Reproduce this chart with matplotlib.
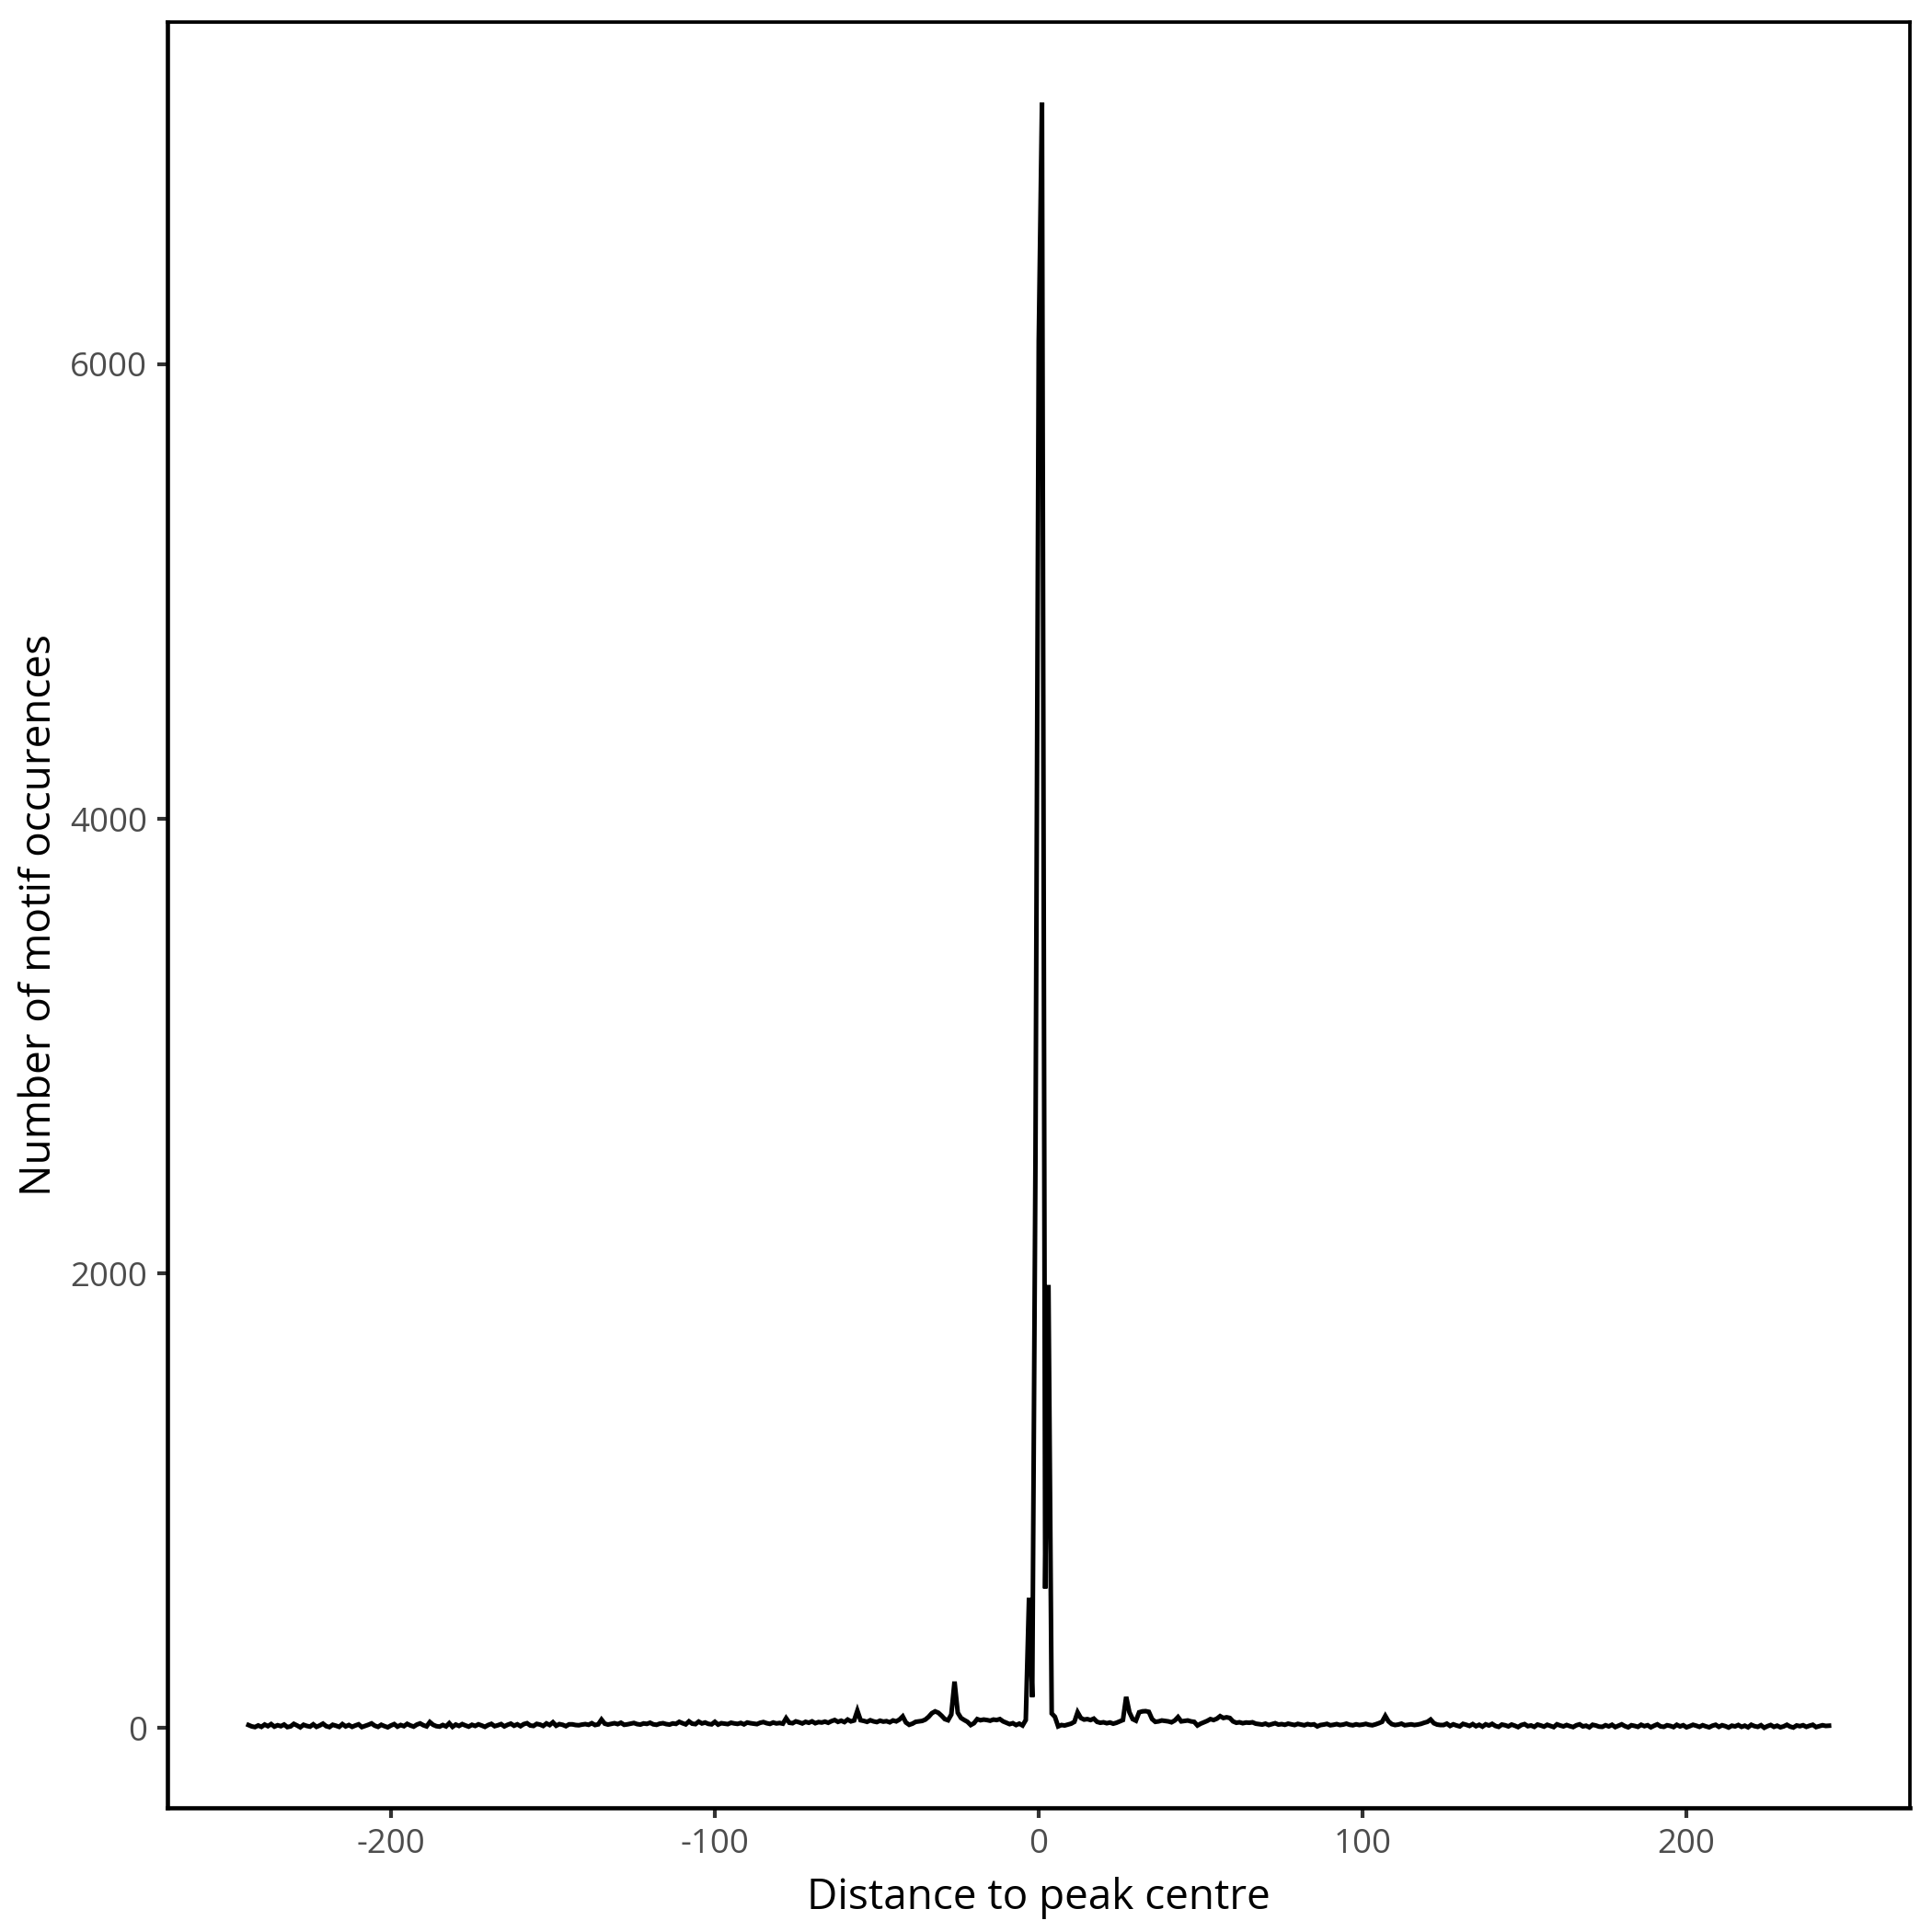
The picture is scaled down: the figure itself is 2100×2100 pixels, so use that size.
import numpy as np
import matplotlib
matplotlib.use("Agg")
import matplotlib.pyplot as plt

plt.rcParams['font.family'] = ['Open Sans', 'DejaVu Sans']

# distance to peak centre, one value per bp
distance = np.arange(-244, 245)

# counts, -244 .. -5
left_counts = [
    14, 8, 5, 12, 6, 16, 9, 18, 7, 13,
    9, 16, 5, 8, 19, 12, 4, 15, 10, 7,
    17, 6, 12, 20, 9, 5, 15, 11, 6, 18,
    8, 14, 6, 12, 17, 5, 10, 15, 21, 11,
    6, 15, 9, 4, 12, 18, 7, 14, 9, 19,
    12, 7, 16, 21, 13, 8, 27, 15, 9, 7,
    14, 8, 22, 6, 16, 10, 18, 12, 7, 15,
    10, 17, 12, 6, 14, 19, 9, 13, 18, 8,
    15, 20, 11, 17, 9, 18, 22, 12, 10, 19,
    16, 10, 21, 14, 26, 11, 18, 15, 9, 17,
    17, 14, 13, 16, 18, 15, 22, 14, 17, 38,
    20, 16, 19, 22, 18, 24, 15, 17, 20, 23,
    18, 16, 21, 19, 24, 17, 15, 20, 22, 18,
    16, 21, 19, 28, 22, 17, 30, 20, 18, 29,
    21, 25, 19, 17, 28, 16, 22, 20, 18, 24,
    21, 19, 23, 17, 25, 22, 20, 18, 24, 27,
    22, 19, 25, 21, 23, 20, 44, 24, 22, 30,
    26, 21, 28, 24, 30, 22, 27, 25, 29, 24,
    31, 36, 28, 33, 27, 38, 30, 34, 77, 35,
    32, 28, 35, 30, 27, 33, 29, 31, 26, 34,
    30, 38, 52, 25, 15, 20, 28, 30, 32, 38,
    50, 66, 74, 68, 55, 40, 35, 60, 205, 68,
    45, 36, 28, 14, 22, 40, 35, 38, 36, 33,
    38, 36, 40, 30, 24, 18, 22, 14, 20, 12,
]

# -4 .. 4
centre_counts = [36, 574, 137, 2525, 6100, 7150, 615, 1950, 65]

# 5 .. 244
right_counts = [
    50, 8, 14, 12, 16, 20, 28, 70, 45, 38,
    40, 36, 42, 28, 24, 26, 22, 25, 20, 24,
    30, 36, 138, 70, 40, 33, 70, 74, 75, 72,
    40, 28, 30, 34, 32, 30, 26, 34, 49, 30,
    32, 34, 30, 28, 12, 20, 26, 32, 40, 36,
    42, 53, 45, 48, 45, 30, 24, 26, 22, 25,
    24, 26, 20, 18, 16, 20, 14, 18, 22, 16,
    18, 15, 20, 17, 14, 19, 16, 13, 18, 15,
    17, 8, 14, 16, 19, 13, 15, 18, 14, 16,
    20, 15, 13, 17, 14, 16, 19, 15, 13, 17,
    22, 28, 54, 30, 18, 14, 16, 20, 13, 15,
    17, 14, 16, 19, 24, 28, 38, 22, 16, 14,
    14, 20, 10, 17, 12, 8, 19, 15, 10, 18,
    9, 15, 7, 17, 12, 19, 10, 6, 16, 13,
    8, 16, 11, 5, 14, 18, 9, 12, 6, 16,
    12, 7, 15, 10, 5, 17, 12, 8, 14, 9,
    5, 13, 17, 8, 11, 4, 15, 12, 7, 6,
    13, 8, 15, 5, 11, 17, 9, 4, 13, 10,
    6, 15, 9, 13, 4, 11, 17, 8, 6, 13,
    10, 5, 15, 8, 13, 4, 9, 15, 11, 6,
    13, 8, 4, 11, 15, 6, 13, 9, 3, 11,
    8, 14, 6, 11, 4, 15, 9, 6, 13, 2,
    9, 14, 6, 11, 4, 8, 15, 7, 3, 12,
    9, 13, 6, 11, 15, 5, 9, 13, 10, 11,
]

counts = left_counts + centre_counts + right_counts
assert len(counts) == len(distance)

x_ticks = [-200, -100, 0, 100, 200]
y_ticks = [0, 2000, 4000, 6000]

fig = plt.figure(figsize=(7, 7), dpi=300)
ax = fig.add_axes([0.0867, 0.0643, 0.9019, 0.9243])

ax.plot(distance, counts, color='black', linewidth=1.2, solid_joinstyle='miter')

ax.set_xlim(-269, 269)
ax.set_ylim(-350, 7505)
ax.set_xticks(x_ticks)
ax.set_yticks(y_ticks)
ax.set_xticklabels([str(t) for t in x_ticks])

for s in ax.spines.values():
    s.set_color('black')
    s.set_linewidth(0.9)
ax.spines['left'].set_linewidth(1.1)
ax.spines['bottom'].set_linewidth(1.1)

ax.tick_params(axis='both', direction='out', length=2.75, width=1.0,
               color='#333333', labelcolor='#4D4D4D', labelsize=8.8, pad=2.5)

ax.set_xlabel('Distance to peak centre', fontsize=11, color='black', labelpad=4)
ax.set_ylabel('Number of motif occurences', fontsize=11, color='black', labelpad=2.5)

fig.savefig('out.png', dpi=300, facecolor='white')
